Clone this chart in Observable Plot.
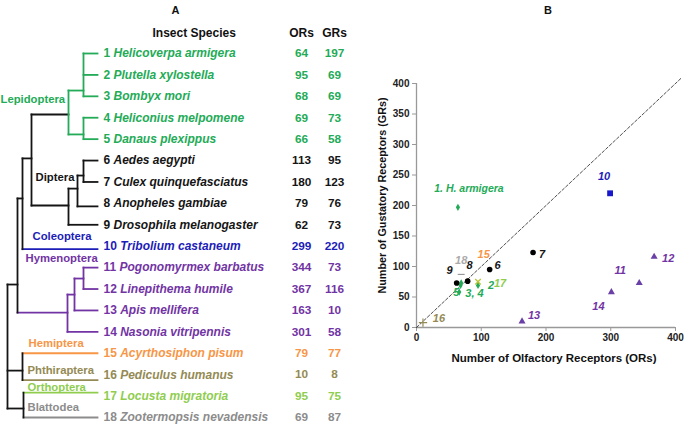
<!DOCTYPE html>
<html>
<head>
<meta charset="utf-8">
<script src="https://cdn.jsdelivr.net/npm/d3@7"></script>
<script src="https://cdn.jsdelivr.net/npm/@observablehq/plot@0.6"></script>
<style>
html, body { margin: 0; padding: 0; background: #fff; }
#chart { position: relative; width: 685px; height: 425px; overflow: hidden; font-family: "Liberation Sans", Arial, sans-serif; }
#chart svg { position: absolute; top: 0; overflow: visible; }
#chart svg.left { left: 0; }
#chart svg.right { left: 370px; }
#chart svg.right g[aria-label^="x-axis"] text, #chart svg.right g[aria-label^="y-axis"] text { font-weight: bold; fill: #222; }
#chart svg.right g[aria-label^="x-axis"] line, #chart svg.right g[aria-label^="y-axis"] line,
#chart svg.right g[aria-label^="x-axis"] path, #chart svg.right g[aria-label^="y-axis"] path { stroke: #999; }
</style>
</head>
<body>
<div id="chart"></div>
<script>
// ---------------- data ----------------
const speciesIds = [1, 2, 3, 4, 5, 6, 7, 8, 9, 10, 11, 12, 13, 14, 15, 16, 17, 18];
const speciesNames = [
  "Helicoverpa armigera", "Plutella xylostella", "Bombyx mori", "Heliconius melpomene",
  "Danaus plexippus", "Aedes aegypti", "Culex quinquefasciatus", "Anopheles gambiae",
  "Drosophila melanogaster", "Tribolium castaneum", "Pogonomyrmex barbatus", "Linepithema humile",
  "Apis mellifera", "Nasonia vitripennis", "Acyrthosiphon pisum", "Pediculus humanus",
  "Locusta migratoria", "Zootermopsis nevadensis"
];
const orCounts = [64, 95, 68, 69, 66, 113, 180, 79, 62, 299, 344, 367, 163, 301, 79, 10, 95, 69];
const grCounts = [197, 69, 69, 73, 58, 95, 123, 76, 73, 220, 73, 116, 10, 58, 77, 8, 75, 87];
const speciesOrder = [
  "Lepidoptera", "Lepidoptera", "Lepidoptera", "Lepidoptera", "Lepidoptera",
  "Diptera", "Diptera", "Diptera", "Diptera", "Coleoptera",
  "Hymenoptera", "Hymenoptera", "Hymenoptera", "Hymenoptera",
  "Hemiptera", "Phthiraptera", "Orthoptera", "Blattodea"
];
const orderNames = ["Lepidoptera", "Diptera", "Coleoptera", "Hymenoptera", "Hemiptera", "Phthiraptera", "Orthoptera", "Blattodea"];
const orderColors = ["#23ab57", "#151515", "#1d1db8", "#7234a4", "#f79646", "#948a54", "#8fcd4f", "#8c8c8c"];
const tableHeaders = ["Insect Species", "ORs", "GRs"];
const panelLetters = ["A", "B"];
const xTitle = "Number of Olfactory Receptors (ORs)";
const yTitle = "Number of Gustatory Receptors (GRs)";
const orTicks = [0, 100, 200, 300, 400];
const grTicks = [0, 50, 100, 150, 200, 250, 300, 350, 400];
const diagonal = [0, 410];
const scatterLabels = ["1. H. armigera", "2", "3, 4", "", "5", "6", "7", "8", "9", "10", "11", "12", "13", "14", "15", "16", "17", "18"];

// tree topology (branch depth and joining row)
const treeNodes = [
  {id: "L123", depth: 83, row: 2.73, kids: [1, 2, 3], line: "Lepidoptera"},
  {id: "L45", depth: 83, row: 4.78, kids: [4, 5], line: "Lepidoptera"},
  {id: "Lep", depth: 68, row: 3.85, kids: ["L123", "L45"], line: "Lepidoptera", stem: "base"},
  {id: "D67", depth: 83, row: 6.70, kids: [6, 7], line: "base"},
  {id: "D678", depth: 77, row: 7.31, kids: ["D67", 8], line: "base"},
  {id: "Dip", depth: 68, row: 8.10, kids: ["D678", 9], line: "base"},
  {id: "LD", depth: 31, row: 5.90, kids: ["Lep", "Dip"], line: "base"},
  {id: "LDC", depth: 22, row: 7.77, kids: ["LD", 10], line: "base"},
  {id: "H1112", depth: 83, row: 11.51, kids: [11, 12], line: "Hymenoptera"},
  {id: "H13", depth: 74, row: 12.26, kids: ["H1112", 13], line: "Hymenoptera"},
  {id: "Hym", depth: 67, row: 13.10, kids: ["H13", 14], line: "Hymenoptera"},
  {id: "Holo", depth: 17, row: 11.79, kids: ["LDC", "Hym"], line: "base"},
  {id: "HP", depth: 22, row: 15.81, kids: [15, 16], line: "base"},
  {id: "OB", depth: 23, row: 17.58, kids: [17, 18], line: "base"},
  {id: "Root", depth: 7, row: 14.5, kids: ["Holo", "HP", "OB"], line: "base"}
];
// leaf branches that sit slightly off their text row in the picture
const leafLineRow = {8: 8.14, 10: 10.14, 16: 16.25, 17: 16.84};

// ---------------- layout (positions / styles) ----------------
const leafTip = 97;
const colSpecies = 103, colOR = 301, colGR = 334;
const cladeLabelPos = [
  {x: 0, row: 3.15}, {x: 35, row: 6.79}, {x: 32, row: 9.55}, {x: 25, row: 10.58},
  {x: 28, row: 14.56}, {x: 27, row: 15.78}, {x: 27, row: 16.58}, {x: 27, row: 17.51}
];
const labelNudge = {
  1: [11, -19], 2: [13, 0], 3: [14, 8], 5: [-3, 0], 6: [8, -4], 7: [9, 2], 8: [2, -16], 9: [-7, -13],
  10: [-6, -17], 11: [-19, -13], 12: [14, 2], 13: [12, -6], 14: [-13, 14], 15: [16, -26],
  16: [16, -4], 17: [22, 2], 18: [0, -14]
};
const FONT = "Liberation Sans, Arial, sans-serif";
const baseColor = "#151515";
const colorOf = key => key === "base" ? baseColor : orderColors[orderNames.indexOf(key)];
const T = {textAnchor: "middle", lineAnchor: "middle"};

// ---------------- left panel: tree + table ----------------
const rows = speciesIds.map((id, i) => ({
  id, name: speciesNames[i], or: orCounts[i], gr: grCounts[i], color: colorOf(speciesOrder[i])
}));
const nodeById = new Map(treeNodes.map(n => [n.id, n]));
const rowOf = k => typeof k === "number" ? (leafLineRow[k] ?? k) : nodeById.get(k).row;
const depthOf = k => typeof k === "number" ? leafTip : nodeById.get(k).depth;
const stemOf = k => typeof k === "number" ? speciesOrder[k - 1] : (nodeById.get(k).stem ?? nodeById.get(k).line);

const horizontals = [], verticals = [];
for (const n of treeNodes) {
  const rs = n.kids.map(rowOf);
  verticals.push({x1: n.depth, x2: n.depth, y1: Math.min(...rs), y2: Math.max(...rs), c: colorOf(n.line)});
  for (const k of n.kids) {
    horizontals.push({x1: n.depth, x2: depthOf(k), y1: rowOf(k), y2: rowOf(k), c: colorOf(stemOf(k))});
  }
}
const clades = orderNames.map((name, i) => ({name, color: orderColors[i], x: cladeLabelPos[i].x, row: cladeLabelPos[i].row}));

const left = Plot.plot({
  width: 370, height: 425,
  marginTop: 0, marginBottom: 0, marginLeft: 0, marginRight: 0,
  x: {domain: [0, 370], range: [0, 370], axis: null},
  y: {domain: [1, 18], range: [53, 417], axis: null},
  color: {type: "identity"},
  style: {fontFamily: FONT, background: "transparent"},
  marks: [
    Plot.link(horizontals, {x1: "x1", y1: "y1", x2: "x2", y2: "y2", stroke: "c", strokeWidth: 1.8, strokeLinecap: "square"}),
    Plot.link(verticals, {x1: "x1", y1: "y1", x2: "x2", y2: "y2", stroke: "c", strokeWidth: 1.8, strokeLinecap: "square"}),
    Plot.text(clades, {x: "x", y: "row", text: "name", fill: "color", textAnchor: "start", lineAnchor: "middle", fontWeight: "bold", fontSize: 11.3}),
    Plot.text(rows, {x: () => colSpecies, y: "id", text: d => `${d.id} ${d.name}`, fill: "color", textAnchor: "start", lineAnchor: "middle",
      fontWeight: "bold", fontSize: 12}),
    Plot.text(rows, {x: () => colOR, y: "id", text: "or", fill: "color", fontWeight: "bold", fontSize: 11.8, ...T}),
    Plot.text(rows, {x: () => colGR, y: "id", text: "gr", fill: "color", fontWeight: "bold", fontSize: 11.8, ...T}),
    Plot.text([tableHeaders[0]], {x: () => 152, frameAnchor: "top", dy: 33, text: d => d, textAnchor: "start", lineAnchor: "middle", fontWeight: "bold", fontSize: 12, fill: "#111"}),
    Plot.text([tableHeaders[1]], {x: () => colOR, frameAnchor: "top", dy: 33, text: d => d, fontWeight: "bold", fontSize: 12, fill: "#111", ...T}),
    Plot.text([tableHeaders[2]], {x: () => colGR, frameAnchor: "top", dy: 33, text: d => d, fontWeight: "bold", fontSize: 12, fill: "#111", ...T}),
    Plot.text([panelLetters[0]], {x: () => 175, frameAnchor: "top", dy: 10, text: d => d, fontWeight: "bold", fontSize: 11, fill: "#111", ...T})
  ]
});
left.classList.add("left");
// number upright, species name italic
const nameSet = new Set(speciesNames);
left.querySelectorAll("text").forEach(t => {
  const s = t.textContent;
  const k = s.indexOf(" ");
  if (k < 0 || !nameSet.has(s.slice(k + 1))) return;
  t.textContent = "";
  const ns = "http://www.w3.org/2000/svg";
  const a = document.createElementNS(ns, "tspan");
  a.textContent = s.slice(0, k + 1);
  const b = document.createElementNS(ns, "tspan");
  b.textContent = s.slice(k + 1);
  b.setAttribute("font-style", "italic");
  b.style.fontStyle = "italic";
  t.appendChild(a); t.appendChild(b);
});

// ---------------- right panel: scatter ----------------
const pts = speciesIds.map((id, i) => ({id, or: orCounts[i], gr: grCounts[i], order: speciesOrder[i], label: scatterLabels[i]}));
const dashSymbol = {draw(ctx, size) { const w = Math.sqrt(size) * 0.7; ctx.moveTo(-w, 0); ctx.lineTo(w, 0); }};
const markerStyle = {
  Hemiptera: {symbol: "circle", r: 2, fill: orderColors[4]},
  Lepidoptera: {symbol: "diamond", r: 2.2, fill: orderColors[0]},
  Diptera: {symbol: "circle", r: 2.8, fill: "#000"},
  Coleoptera: {symbol: "square", r: 3.3, fill: "#1717cc"},
  Hymenoptera: {symbol: "triangle", r: 2.6, fill: "#6a3fa6"},
  Phthiraptera: {symbol: "plus", r: 2.8, stroke: orderColors[5]},
  Orthoptera: {symbol: "times", r: 2.6, stroke: "#b8c230"},
  Blattodea: {symbol: dashSymbol, r: 2.8, stroke: "#999"}
};
const drawOrder = ["Hemiptera", "Lepidoptera", "Diptera", "Coleoptera", "Hymenoptera", "Phthiraptera", "Orthoptera", "Blattodea"];
const dotMarks = drawOrder.map(o => {
  const s = markerStyle[o];
  return Plot.dot(pts.filter(d => d.order === o), {
    x: "or", y: "gr", symbol: s.symbol, r: s.r,
    fill: s.fill ?? "none", stroke: s.stroke ?? "none", strokeWidth: 1.2
  });
});
const labelMarks = pts.filter(d => d.label).map(d => Plot.text([d], {
  x: "or", y: "gr", text: "label",
  dx: labelNudge[d.id][0], dy: labelNudge[d.id][1],
  fill: d.id === 18 ? "#aaa" : colorOf(d.order),
  fontWeight: "bold", fontStyle: "italic", fontSize: d.id === 1 ? 10.5 : 11, ...T
}));

const right = Plot.plot({
  width: 315, height: 425,
  marginLeft: 46, marginRight: 10, marginTop: 83, marginBottom: 98,
  x: {domain: [0, 400], ticks: orTicks, tickSize: 4, tickPadding: 2, label: null},
  y: {domain: [0, 400], ticks: grTicks, tickSize: 4, tickPadding: 3, label: null},
  style: {fontFamily: FONT, fontSize: "10px", color: "#222", background: "transparent"},
  marks: [
    Plot.ruleY([0], {stroke: "#999", strokeWidth: 1.3}),
    Plot.ruleX([0], {stroke: "#999", strokeWidth: 1.3}),
    Plot.line(diagonal.map(v => ({or: v, gr: v})), {x: "or", y: "gr", stroke: "#222", strokeWidth: 0.8, strokeDasharray: "3,2"}),
    ...dotMarks,
    ...labelMarks,
    Plot.text([xTitle], {frameAnchor: "bottom", dy: 31, dx: 8, text: d => d, fontWeight: "bold", fontSize: 11.5, fill: "#111", ...T}),
    Plot.text([yTitle], {x: () => 0, y: () => 200, rotate: -90, dx: -34, dy: -10, text: d => d, fontWeight: "bold", fontSize: 10.8, fill: "#111", ...T}),
    Plot.text([panelLetters[1]], {frameAnchor: "top", dy: -73, dx: 2, text: d => d, fontWeight: "bold", fontSize: 11, fill: "#111", ...T})
  ]
});
right.classList.add("right");

document.getElementById("chart").append(left, right);
</script>
</body>
</html>
